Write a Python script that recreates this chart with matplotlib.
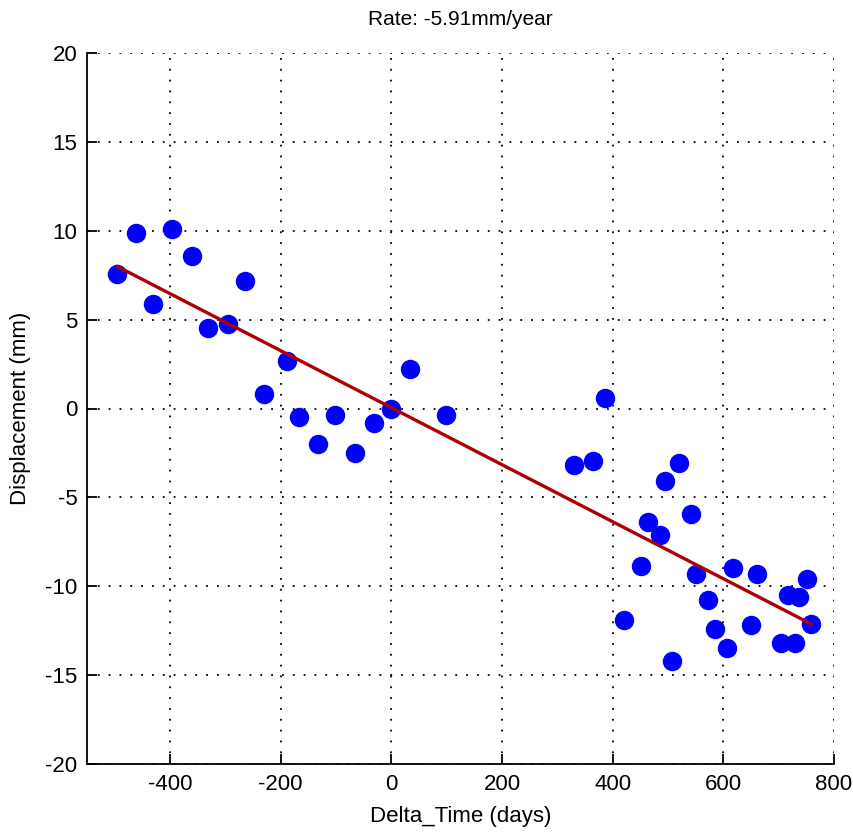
import numpy as np
import matplotlib
matplotlib.use("Agg")
import matplotlib.pyplot as plt

delta_days = [-495, -461, -430, -396, -361, -331, -296, -265, -231, -188,
              -166, -132, -101, -65, -32, 0, 33, 99,
              330, 364, 386, 420, 452, 464, 486, 495, 507, 520, 542, 551,
              573, 585, 606, 617, 650, 660, 705, 716, 729, 737, 751, 759]
displacement = [7.55, 9.88, 5.9, 10.1, 8.58, 4.52, 4.78, 7.2, 0.82, 2.65,
                -0.49, -2.0, -0.39, -2.5, -0.82, 0.0, 2.2, -0.35,
                -3.16, -2.93, 0.6, -11.9, -8.84, -6.4, -7.1, -4.07, -14.2, -3.04, -5.96, -9.3,
                -10.8, -12.4, -13.5, -8.97, -12.2, -9.3, -13.2, -10.5, -13.2, -10.6, -9.57, -12.1]
title_text = "Rate: -5.91mm/year"
xticks = [-400, -200, 0, 200, 400, 600, 800]
yticks = [-20, -15, -10, -5, 0, 5, 10, 15, 20]

plt.rcParams['font.family'] = ['Liberation Sans Narrow', 'Liberation Sans', 'DejaVu Sans']
plt.rcParams['axes.unicode_minus'] = False

fig = plt.figure(figsize=(8.54, 8.39), dpi=100)
ax = fig.add_axes([87/854, 75/839, (834-87)/854, (764-53)/839])

x = np.array(delta_days, dtype=float)
y = np.array(displacement, dtype=float)
p = np.polyfit(x, y, 1)
xl = np.array([x.min(), x.max()])
ax.plot(x, y, 'o', color=(0, 0, 1), ms=13, mec=(0, 0, 1), zorder=3)
ax.plot(xl, np.polyval(p, xl), '-', color=(0.68, 0.0, 0.0), lw=2.4, zorder=4)

ax.set_xlim(-550, 800)
ax.set_ylim(-20, 20)
ax.set_xticks(xticks)
ax.set_yticks(yticks)
ax.grid(True, color='black', linestyle=(0, (1, 5)), linewidth=1.3)
ax.set_axisbelow(True)
for s in ['top', 'right']:
    ax.spines[s].set_visible(False)
for s in ['left', 'bottom']:
    ax.spines[s].set_linewidth(1.3)
ax.tick_params(direction='in', length=7, width=1.3, labelsize=16, pad=7)
ax.set_title(title_text, fontsize=15, pad=20)
ax.set_xlabel("Delta_Time (days)", fontsize=16, labelpad=8)
ax.set_ylabel("Displacement (mm)", fontsize=16, labelpad=10)

fig.savefig("out.png", dpi=100)
